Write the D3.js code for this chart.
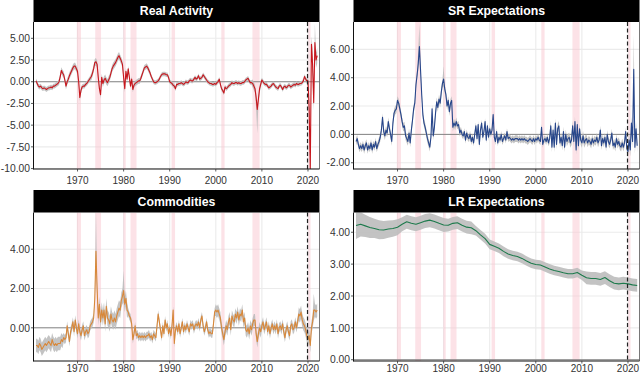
<!DOCTYPE html>
<html>
<head>
<meta charset="utf-8">
<script src="https://cdn.jsdelivr.net/npm/d3@7"></script>
<style>
  body { margin: 0; background: #fff; }
  svg { display: block; font-family: "Liberation Sans", Arial, Helvetica, sans-serif; }
</style>
</head>
<body>
<svg></svg>
<script>
// quarterly series start in 1961 Q1, four values per year, last value 2022 Q1
var startYear = 1961;

var realActivity = [
  0.1, -0.2, -0.5, -0.6,   -0.5, -0.7, -0.8, -0.7,   -0.8, -0.9, -0.8, -0.7,   -0.7, -0.6, -0.7, -0.5,   -0.5, -0.4, -0.3, -0.2,   // 1961-65
  0.0, 0.6, 1.3, 1.0,      0.8, 0.2, -0.5, 0.0,      0.3, 0.7, 1.0, 1.3,       1.6, 1.8, 1.8, 1.5,       1.2, 0.0, -1.8, -1.0,     // 1966-70
  -0.6, -0.5, -0.5, -0.3,  -0.2, 0.0, 0.2, 0.4,      0.6, 1.0, 1.5, 2.2,       2.3, 2.0, 0.5, -0.8,      -1.5, 0.5, -0.2, 0.2,     // 1971-75
  0.4, 0.1, -0.1, 0.2,     0.5, 1.0, 1.5, 1.8,       2.0, 2.2, 2.5, 2.8,       3.0, 2.7, 2.4, 2.0,       0.5, -0.8, 1.2, 0.3,      // 1976-80
  1.5, 0.5, -0.5, 0.3,     -0.9, -0.4, -0.2, -0.1,   0.0, 0.1, 0.1, 0.4,       0.8, 1.2, 1.6, 1.7,       1.8, 1.6, 1.3, 1.0,       // 1981-85
  0.6, 0.3, 0.0, -0.1,     -0.1, 0.0, 0.1, 0.3,      0.6, 0.8, 0.9, 0.9,       0.9, 0.8, 0.8, 0.5,       0.0, -0.1, -0.2, -0.4,    // 1986-90
  -0.5, -0.8, -0.3, -0.3,  -0.2, -0.2, -0.1, -0.2,   -0.3, -0.2, 0.0, -0.1,    -0.1, 0.1, 0.2, 0.1,      0.1, 0.3, 0.5, 0.3,       // 1991-95
  0.4, 0.7, 0.3, 0.4,      0.5, 0.8, 0.6, 0.4,       0.2, 0.0, -0.1, -0.2,     -0.2, -0.3, -0.3, -0.2,   -0.3, -0.1, 0.0, 0.3,     // 1996-2000
  -0.3, -0.8, -1.0, -1.3,  -0.6, -0.8, -0.7, -0.5,   -0.4, -0.3, -0.1, -0.2,   -0.2, -0.1, -0.1, -0.2,   -0.1, -0.2, -0.2, -0.1,   // 2001-05
  -0.1, 0.0, 0.2, 0.3,     0.4, 0.1, -0.1, -0.1,     -0.2, -0.5, -0.8, -1.8,   -3.2, -2.0, -0.8, -0.3,   0.2, 0.0, -0.2, -0.3,     // 2006-10
  -0.3, -0.5, -0.7, -0.6,  -0.5, -0.3, -0.2, -0.4,   -0.6, -0.7, -0.8, -0.5,   -0.4, -0.6, -0.9, -0.6,   -0.5, -0.7, -0.6, -0.4,   // 2011-15
  -0.4, -0.6, -0.5, -0.4,  -0.3, -0.4, -0.2, -0.3,   -0.3, -0.2, -0.2, -0.1,   0.1, 0.6, 0.3, 0.1,       0.1, -3.0, -10.0, 4.3,    // 2016-20
  2.0, -2.4, 4.5, 2.5,     3.0                                                                                                      // 2021-22
];

var srExpectations = [
  -0.5, -0.3, -0.7, -1.0,  -0.8, -1.0, -0.7, -1.1,   -0.8, -0.6, -1.1, -0.8,   -1.0, -0.6, -1.1, -0.7,   -0.9, -0.5, -1.0, -0.7,   // 1961-65
  -0.5, -0.2, 0.3, 1.2,    0.2, -0.1, 0.3, 0.1,      0.9, 0.4, 0.0, -0.5,      0.8, 1.5, 1.7, 1.8,       2.4, 2.2, 1.8, 1.4,       // 1966-70
  0.9, 0.5, 0.6, -0.1,     -0.3, -0.5, 0.1, -0.6,    0.3, 1.0, 1.8, 2.2,       3.5, 4.2, 5.0, 6.2,       4.5, 2.8, 1.4, 0.8,       // 1971-75
  0.5, 0.1, -0.3, -0.6,    -0.9, -0.2, 1.8, -0.1,    0.5, 1.5, 2.3, 1.9,       2.5, 2.2, 3.0, 3.6,       3.9, 3.2, 2.8, 2.0,       // 1976-80
  2.4, 1.6, 2.2, 2.4,      0.5, 0.8, 0.6, 0.9,       0.6, 0.7, 0.1, 0.3,       0.0, -0.1, 0.2, -0.4,     0.1, -0.2, -0.3, 0.0,     // 1981-85
  -0.5, -0.2, -0.6, 0.0,   0.6, -0.3, 0.7, -0.7,     0.3, 0.8, -0.2, 0.2,      0.9, -0.4, 0.6, -0.2,     0.4, 0.0, 0.3, 1.4,       // 1986-90
  -0.2, -0.5, 0.2, -0.6,   -0.2, -0.4, 0.0, -0.5,    -0.3, -0.1, -0.4, 0.2,    -0.3, -0.2, -0.3, -0.4,   -0.3, -0.4, -0.3, -0.3,   // 1991-95
  -0.3, -0.4, -0.3, -0.4,  -0.3, -0.4, -0.3, -0.4,   -0.4, -0.5, -0.4, -0.3,   -0.4, -0.5, -0.3, -0.5,   -0.3, -0.4, -0.2, -0.4,   // 1996-2000
  -0.5, 0.5, -0.7, -0.4,   -0.3, -0.5, -0.2, -0.6,   -0.3, 0.6, -0.9, 0.3,     -0.9, 0.8, -0.7, 0.4,     0.6, -0.6, -0.2, -0.8,    // 2001-05
  0.2, -0.9, 0.0, -0.5,    -0.3, -0.2, -0.6, -0.4,   0.6, -0.5, 0.9, -1.1,     0.7, -0.8, 0.4, -0.4,     -0.6, -0.1, -0.6, -0.4,   // 2006-10
  -0.3, -0.6, -0.4, -0.5,  -0.7, -0.3, -0.6, -0.4,   -0.5, -0.2, -0.6, -0.4,   0.3, -0.8, -0.3, -0.6,    -0.2, -0.9, 0.0, -0.5,    // 2011-15
  -0.7, -0.4, 0.1, -0.8,   -0.6, -0.9, -0.3, -0.7,   -0.5, -0.8, -0.9, -0.6,   -0.9, -0.6, 0.2, -1.0,    -1.2, -0.4, -1.1, 0.8,    // 2016-20
  -0.5, 4.6, -0.9, 0.4,    -0.8                                                                                                     // 2021-22
];

var commodities = [
  -0.9, -0.9, -1.0, -0.8,  -0.9, -1.1, -1.0, -0.9,   -0.8, -0.9, -0.8, -0.7,   -0.8, -0.9, -0.6, -0.8,   -0.9, -0.8, -0.9, -0.8,   // 1961-65
  -0.8, -0.8, -0.6, -0.7,  -0.5, -0.6, -0.5, 0.1,    -0.3, -0.7, -0.2, 0.0,    0.3, -0.2, 0.4, 0.0,      -0.3, 0.2, -0.2, -0.4,    // 1966-70
  -0.1, 0.1, -0.4, -0.2,   -0.1, -0.3, -0.2, 0.1,    0.2, 0.3, 0.5, 1.5,       3.9, 2.0, 0.5, 1.2,       0.3, 0.9, 0.5, 0.9,       // 1971-75
  0.2, 1.1, 0.5, 0.4,      0.2, 0.7, 0.4, 0.3,       0.5, 0.3, 0.6, 0.8,       1.0, 0.9, 1.4, 1.6,       1.9, 1.2, 1.5, 0.9,       // 1976-80
  0.8, 0.6, 0.5, 0.2,      -0.6, -0.3, 0.1, -0.4,    -0.3, -0.5, -0.4, -0.5,   -0.4, -0.5, -0.4, -0.5,   -0.4, -0.4, -0.3, -0.5,   // 1981-85
  -0.4, -0.6, -0.3, -0.4,  -0.5, 0.1, 0.7, 0.3,      -0.1, -0.5, 0.1, -0.3,    0.4, 0.0, 0.2, -0.3,      0.0, -0.4, 0.1, 0.9,      // 1986-90
  -0.8, -0.1, 0.1, -0.2,   0.2, -0.3, 0.0, 0.3,      -0.2, 0.1, -0.1, 0.2,     0.0, -0.2, 0.2, 0.1,      0.2, -0.1, 0.1, 0.2,      // 1991-95
  0.1, 0.3, 0.0, 0.4,      0.6, 0.1, -0.2, 0.0,      0.3, -0.1, -0.3, -0.2,    -0.3, -0.3, 0.2, 0.8,     0.9, 0.8, 0.9, 0.7,       // 1996-2000
  0.5, 0.0, -0.3, -0.6,    -0.2, 0.1, -0.1, 0.3,     0.5, -0.1, 0.6, 0.4,      0.3, 0.7, 0.5, 0.8,       0.4, 0.7, 0.6, 0.9,       // 2001-05
  0.3, 0.5, -0.1, -0.2,    0.0, -0.3, 0.1, -0.1,     0.2, 0.4, 0.4, -0.3,      -0.7, -0.3, 0.0, -0.2,    0.1, 0.3, -0.1, 0.1,      // 2006-10
  0.3, -0.2, 0.1, -0.3,    0.0, 0.2, -0.1, 0.1,      -0.1, 0.2, -0.3, 0.0,     0.1, -0.1, 0.2, -0.2,     -0.5, -0.1, 0.1, -0.2,    // 2011-15
  -0.4, 0.1, 0.2, -0.1,    0.0, 0.3, 0.0, 0.3,       0.7, 0.6, 0.8, 0.4,       0.2, 0.1, -0.1, -0.4,     -0.6, -0.4, -0.9, 0.0,    // 2016-20
  0.3, 0.9, 0.9, 0.8,      0.9                                                                                                      // 2021-22
];

// long run expectations are smooth, one value per year 1961-2022
var lrExpectations = [
  4.21, 4.25, 4.20, 4.15, 4.12, 4.08, 4.07, 4.10, 4.12, 4.16,   // 1961-70
  4.25, 4.33, 4.28, 4.25, 4.30, 4.35, 4.38, 4.34, 4.28, 4.23,   // 1971-80
  4.22, 4.28, 4.30, 4.22, 4.16, 4.14, 4.05, 3.92, 3.80, 3.62,   // 1981-90
  3.56, 3.50, 3.40, 3.32, 3.27, 3.24, 3.18, 3.10, 3.03, 2.99,   // 1991-2000
  2.97, 2.91, 2.85, 2.80, 2.77, 2.73, 2.70, 2.70, 2.74, 2.65,   // 2001-10
  2.57, 2.55, 2.55, 2.52, 2.58, 2.48, 2.40, 2.38, 2.40, 2.38,   // 2011-20
  2.35, 2.33                                                    // 2021-22
];

// half width of the grey uncertainty band, one value per year 1961-2022
var realBand = [
  0.28, 0.28, 0.28, 0.28, 0.28, 0.38, 0.38, 0.38, 0.38, 0.38,
  0.28, 0.28, 0.42, 0.42, 0.42, 0.42, 0.42, 0.42, 0.42, 0.42,
  0.32, 0.32, 0.32, 0.32, 0.32, 0.26, 0.26, 0.26, 0.26, 0.26,
  0.26, 0.26, 0.26, 0.26, 0.26, 0.26, 0.26, 0.26, 0.26, 0.26,
  0.26, 0.26, 0.26, 0.26, 0.26, 0.26, 0.26, 0.45, 0.45, 0.26,
  0.26, 0.26, 0.26, 0.26, 0.26, 0.26, 0.26, 0.26, 0.26, 0.9,
  0.9, 0.9
];
var srBand = [
  0.26, 0.26, 0.26, 0.26, 0.26, 0.3, 0.3, 0.3, 0.3, 0.3,
  0.3, 0.3, 0.3, 0.3, 0.3, 0.3, 0.3, 0.3, 0.3, 0.3,
  0.3, 0.3, 0.24, 0.24, 0.24, 0.24, 0.24, 0.24, 0.24, 0.24,
  0.24, 0.24, 0.24, 0.24, 0.24, 0.24, 0.24, 0.24, 0.24, 0.24,
  0.24, 0.24, 0.34, 0.34, 0.34, 0.34, 0.34, 0.34, 0.34, 0.34,
  0.3, 0.3, 0.3, 0.3, 0.3, 0.3, 0.3, 0.3, 0.3, 0.45,
  0.45, 0.45
];
var commBand = [
  0.34, 0.34, 0.34, 0.34, 0.34, 0.34, 0.24, 0.24, 0.24, 0.24,
  0.24, 0.24, 0.24, 0.4, 0.4, 0.4, 0.4, 0.4, 0.4, 0.4,
  0.2, 0.2, 0.2, 0.2, 0.2, 0.2, 0.2, 0.2, 0.2, 0.2,
  0.2, 0.2, 0.2, 0.2, 0.2, 0.2, 0.2, 0.2, 0.2, 0.3,
  0.3, 0.3, 0.3, 0.3, 0.3, 0.3, 0.3, 0.3, 0.3, 0.24,
  0.24, 0.24, 0.24, 0.24, 0.24, 0.24, 0.24, 0.34, 0.34, 0.34,
  0.34, 0.34
];
var lrBand = [
  0.42, 0.38, 0.35, 0.33, 0.30, 0.30, 0.28, 0.27, 0.26, 0.25,
  0.22, 0.22, 0.22, 0.22, 0.22, 0.22, 0.22, 0.22, 0.22, 0.22,
  0.20, 0.20, 0.20, 0.20, 0.20, 0.20, 0.15, 0.15, 0.15, 0.15,
  0.15, 0.15, 0.15, 0.15, 0.15, 0.15, 0.15, 0.15, 0.15, 0.15,
  0.15, 0.15, 0.15, 0.15, 0.15, 0.15, 0.15, 0.15, 0.15, 0.15,
  0.20, 0.20, 0.20, 0.20, 0.20, 0.20, 0.20, 0.20, 0.20, 0.20,
  0.20, 0.20
];

// extra band width at spikes: [time, extra below, extra above]
var realSpikes = [[2008.75, 0.8, 0.1], [2009.0, 2.3, 0.2], [2021.0, 1.0, 1.0], [2021.5, 0.5, 1.3]];
var srSpikes = [[1974.5, 0.2, 0.6], [1974.75, 0.4, 1.3], [1980.0, 0.2, 0.6], [2021.25, 1.0, 2.0]];
var commSpikes = [[1974.0, 0.3, 1.8], [1980.0, 0.2, 0.6], [2021.25, 0.2, 0.5]];

// NBER recessions (decimal years)
var recessions = [
  [1969.85, 1970.75], [1973.85, 1975.1], [1979.95, 1980.45], [1981.5, 1982.8],
  [1990.4, 1991.15], [2001.2, 2001.9], [2007.95, 2009.5], [2020.08, 2020.55]
];
var covidLine = 2019.9;
var yearTicks = [1970, 1980, 1990, 2000, 2010, 2020];

var realTicks = [5, 2.5, 0, -2.5, -5, -7.5, -10];
var srTicks = [6, 4, 2, 0, -2];
var commTicks = [4, 2, 0];
var lrTicks = [4, 3, 2, 1, 0];

var width = 640, height = 373;
var svg = d3.select("svg").attr("width", width).attr("height", height);

var panels = [
  {title: "Real Activity", values: realActivity, band: realBand, spikes: realSpikes, step: 0.25,
   color: "#c8161d", domain: [-10.05, 6.88], ticks: realTicks, left: 33.5, top: 22, bottom: 169},
  {title: "SR Expectations", values: srExpectations, band: srBand, spikes: srSpikes, step: 0.25,
   color: "#27468b", domain: [-2.44, 7.93], ticks: srTicks, left: 353.5, top: 22, bottom: 169},
  {title: "Commodities", values: commodities, band: commBand, spikes: commSpikes, step: 0.25,
   color: "#d8883a", domain: [-1.69, 5.87], ticks: commTicks, left: 33.5, top: 212.5, bottom: 361},
  {title: "LR Expectations", values: lrExpectations, band: lrBand, spikes: [], step: 1,
   color: "#1d7a4c", domain: [-0.04, 4.62], ticks: lrTicks, left: 353.5, top: 212.5, bottom: 361}
];

var panelWidth = 286;
var stripHeight = 22.5;

panels.forEach(function(p, k) {
  var x = d3.scaleLinear().domain([1960.45, 2022.5]).range([p.left, p.left + panelWidth]);
  var y = d3.scaleLinear().domain(p.domain).range([p.bottom, p.top]);

  var pts = p.values.map(function(v, i) {
    var t = startYear + i * p.step;
    var w = p.band[Math.min(Math.floor(t) - startYear, p.band.length - 1)];
    var lo = w, hi = w;
    p.spikes.forEach(function(s) {
      if (Math.abs(s[0] - t) < 0.01) { lo += s[1]; hi += s[2]; }
    });
    return {t: t, v: v, lo: v - lo, hi: v + hi};
  });

  var g = svg.append("g");

  g.append("clipPath").attr("id", "clip" + k)
    .append("rect")
    .attr("x", p.left).attr("y", p.top)
    .attr("width", panelWidth).attr("height", p.bottom - p.top);

  // grid
  g.selectAll(".hgrid").data(p.ticks).enter().append("line")
    .attr("x1", p.left).attr("x2", p.left + panelWidth)
    .attr("y1", function(d) { return y(d); }).attr("y2", function(d) { return y(d); })
    .attr("stroke", "#ebebeb").attr("stroke-width", 1.1);
  g.selectAll(".vgrid").data(yearTicks).enter().append("line")
    .attr("x1", function(d) { return x(d); }).attr("x2", function(d) { return x(d); })
    .attr("y1", p.top).attr("y2", p.bottom)
    .attr("stroke", "#ebebeb").attr("stroke-width", 1.1);

  var inner = g.append("g").attr("clip-path", "url(#clip" + k + ")");

  // recession shading
  inner.selectAll(".rec").data(recessions).enter().append("rect")
    .attr("x", function(d) { return x(d[0]); })
    .attr("width", function(d) { return x(d[1]) - x(d[0]); })
    .attr("y", p.top).attr("height", p.bottom - p.top)
    .attr("fill", "#f9c5cf").attr("opacity", 0.5);

  // zero line
  inner.append("line")
    .attr("x1", p.left).attr("x2", p.left + panelWidth)
    .attr("y1", y(0)).attr("y2", y(0))
    .attr("stroke", "#7a7a7a").attr("stroke-width", 0.9);

  // uncertainty band
  inner.append("path").datum(pts)
    .attr("d", d3.area()
      .x(function(d) { return x(d.t); })
      .y0(function(d) { return y(d.lo); })
      .y1(function(d) { return y(d.hi); }))
    .attr("fill", "#bdbdbd").attr("opacity", 0.9);

  inner.append("path").datum(pts)
    .attr("d", d3.line()
      .x(function(d) { return x(d.t); })
      .y(function(d) { return y(d.v); }))
    .attr("fill", "none")
    .attr("stroke", p.color)
    .attr("stroke-width", 1.1)
    .attr("stroke-linejoin", "round");

  // dashed line at end of 2019
  g.append("line")
    .attr("x1", x(covidLine)).attr("x2", x(covidLine))
    .attr("y1", p.top).attr("y2", p.bottom)
    .attr("stroke", "#222").attr("stroke-width", 1.2)
    .attr("stroke-dasharray", "4,2.5");

  // panel frame
  g.append("line").attr("x1", p.left + panelWidth).attr("x2", p.left + panelWidth)
    .attr("y1", p.top).attr("y2", p.bottom)
    .attr("stroke", "#555").attr("stroke-width", 0.8);
  g.append("line").attr("x1", p.left).attr("x2", p.left)
    .attr("y1", p.top).attr("y2", p.bottom + 0.5)
    .attr("stroke", "#111").attr("stroke-width", 1);
  g.append("line").attr("x1", p.left).attr("x2", p.left + panelWidth)
    .attr("y1", p.bottom).attr("y2", p.bottom)
    .attr("stroke", "#111").attr("stroke-width", 1);

  // y axis ticks and labels
  g.selectAll(".ytick").data(p.ticks).enter().append("line")
    .attr("x1", p.left - 2.5).attr("x2", p.left)
    .attr("y1", function(d) { return y(d); }).attr("y2", function(d) { return y(d); })
    .attr("stroke", "#333").attr("stroke-width", 0.8);
  g.selectAll(".ylab").data(p.ticks).enter().append("text")
    .attr("x", p.left - 3.5)
    .attr("y", function(d) { return y(d); })
    .attr("dy", "0.36em")
    .attr("text-anchor", "end")
    .style("font-size", "10.3px")
    .style("fill", "#333")
    .text(function(d) { return d.toFixed(2); });

  // x axis ticks and labels (kept inside the page at the bottom)
  g.selectAll(".xtick").data(yearTicks).enter().append("line")
    .attr("x1", function(d) { return x(d); }).attr("x2", function(d) { return x(d); })
    .attr("y1", p.bottom).attr("y2", p.bottom + 2.5)
    .attr("stroke", "#333").attr("stroke-width", 0.8);
  g.selectAll(".xlab").data(yearTicks).enter().append("text")
    .attr("x", function(d) { return x(d); })
    .attr("y", Math.min(p.bottom + 15, height - 1.5))
    .attr("text-anchor", "middle")
    .style("font-size", "10px")
    .style("fill", "#333")
    .text(function(d) { return d; });

  // strip title
  g.append("rect")
    .attr("x", p.left).attr("y", p.top - stripHeight)
    .attr("width", panelWidth).attr("height", stripHeight)
    .attr("fill", "#000");
  g.append("text")
    .attr("x", p.left + panelWidth / 2)
    .attr("y", p.top - stripHeight / 2)
    .attr("dy", "0.36em")
    .attr("text-anchor", "middle")
    .attr("font-weight", "bold")
    .style("font-size", "12.3px")
    .style("fill", "#fff")
    .text(p.title);
});
</script>
</body>
</html>
